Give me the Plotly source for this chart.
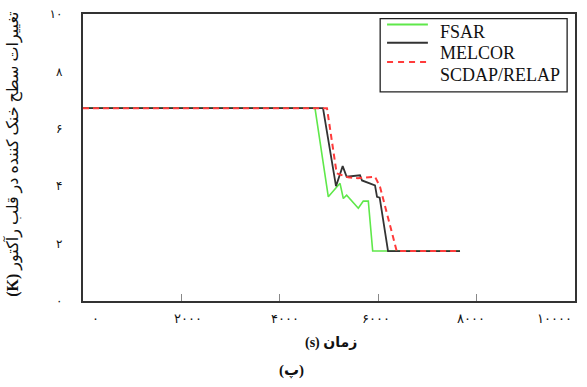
import plotly.graph_objects as go

# Coolant level change in the reactor core vs time, three codes
series_names = ["FSAR", "MELCOR", "SCDAP/RELAP"]
series_colors = ["#5fe84a", "#333333", "#ff3b3b"]

fsar_t = [0, 4715, 4986, 5224, 5291, 5359, 5596, 5697, 5799, 5888, 7663]
fsar_y = [6.72, 6.72, 3.63, 4.10, 3.57, 3.69, 3.23, 3.48, 3.48, 1.74, 1.74]

melcor_t = [0, 4878, 5142, 5278, 5359, 5630, 5671, 5935, 5976, 6030, 6200, 7663]
melcor_y = [6.72, 6.72, 4.00, 4.70, 4.33, 4.38, 4.20, 4.03, 3.63, 3.60, 1.74, 1.74]

scdap_t = [0, 4959, 5156, 5386, 5589, 5935, 6037, 6376, 7663]
scdap_y = [6.72, 6.72, 4.45, 4.31, 4.28, 4.33, 3.98, 1.74, 1.74]

x_ticks = [0, 2000, 4000, 6000, 8000, 10000]
x_tick_text = ["۰", "۲۰۰۰", "۴۰۰۰", "۶۰۰۰", "۸۰۰۰", "۱۰۰۰۰"]
x_label_shift = [12, 7, 5, -2, -6, -21]   # px nudges so the wide labels stay inside the page
y_ticks = [0, 2, 4, 6, 8, 10]
y_tick_text = ["۰", "۲", "۴", "۶", "۸", "۱۰"]

x_title = "<b>(s) زمان</b>"
y_title = "<b>(K)</b> تغییرات سطح خنک کننده در قلب رآکتور"
caption = "<b>(پ)</b>"

FONT = "Liberation Serif, DejaVu Sans, serif"

fig = go.Figure()
fig.add_trace(go.Scatter(x=fsar_t, y=fsar_y, mode="lines", name=series_names[0],
                         line=dict(color=series_colors[0], width=1.6), showlegend=False))
fig.add_trace(go.Scatter(x=melcor_t, y=melcor_y, mode="lines", name=series_names[1],
                         line=dict(color=series_colors[1], width=1.8), showlegend=False))
fig.add_trace(go.Scatter(x=scdap_t, y=scdap_y, mode="lines", name=series_names[2],
                         line=dict(color=series_colors[2], width=2, dash="6px,4px"), showlegend=False))

# boxed legend in the upper right corner
fig.add_shape(type="rect", xref="paper", yref="paper", x0=0.604, x1=0.984, y0=0.729, y1=0.984,
              line=dict(color="#222", width=1.3), fillcolor="white", layer="above")
line_y = [0.963, 0.900, 0.833]
text_y = [0.938, 0.865, 0.788]
dashes = ["solid", "solid", "6px,5px"]
for name, col, ly, ty, dsh in zip(series_names, series_colors, line_y, text_y, dashes):
    fig.add_shape(type="line", xref="paper", yref="paper", x0=0.618, x1=0.701, y0=ly, y1=ly,
                  line=dict(color=col, width=2, dash=dsh), layer="above")
    fig.add_annotation(xref="paper", yref="paper", x=0.7215, y=ty, text=name, showarrow=False,
                       xanchor="left", yanchor="middle",
                       font=dict(family="Liberation Serif, serif", size=18, color="#111"))

# x tick labels (Persian digits), placed under each tick value
for tv, tt, sh in zip(x_ticks, x_tick_text, x_label_shift):
    fig.add_annotation(xref="x", yref="paper", x=tv, y=-0.06, text=tt, showarrow=False,
                       xanchor="center", yanchor="middle", xshift=sh,
                       font=dict(family=FONT, size=13, color="#111"))

# axis titles and caption
fig.add_annotation(xref="paper", yref="paper", x=0.504, y=-0.145, text=x_title, showarrow=False,
                   xanchor="center", yanchor="middle", font=dict(family=FONT, size=14, color="#111"))
fig.add_annotation(xref="paper", yref="paper", x=0.423, y=-0.242, text=caption, showarrow=False,
                   xanchor="center", yanchor="middle", font=dict(family=FONT, size=15, color="#111"))
fig.add_annotation(xref="paper", yref="paper", x=-0.144, y=0.51, text=y_title, showarrow=False,
                   textangle=-90, xanchor="center", yanchor="middle",
                   font=dict(family=FONT, size=16, color="#111"))

fig.update_xaxes(range=[0, 10000], tickvals=x_ticks, showticklabels=False,
                 ticks="inside", ticklen=7, tickcolor="#888", tickwidth=1,
                 automargin=False,
                 showgrid=False, zeroline=False, showline=True, mirror=True,
                 linecolor="#333", linewidth=2.2)
fig.update_yaxes(range=[0, 10], tickvals=y_ticks, ticktext=y_tick_text,
                 ticks="", showgrid=False, zeroline=False, showline=True, mirror=True,
                 linecolor="#333", linewidth=2.2, ticklabelstandoff=16,
                 ticklabeloverflow="allow", automargin=False,
                 tickfont=dict(family=FONT, size=12, color="#111"))

fig.update_layout(width=587, height=387,
                  margin=dict(l=83, r=12, t=14, b=86, autoexpand=False),
                  paper_bgcolor="white", plot_bgcolor="white")

fig.write_html("out.html")
